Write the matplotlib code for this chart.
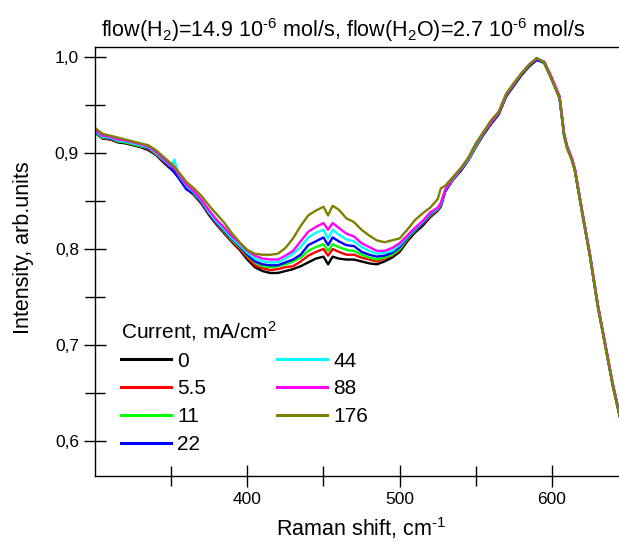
import numpy as np
import matplotlib.pyplot as plt
from matplotlib.ticker import FixedLocator, FuncFormatter

plt.rcParams['font.family'] = ['Liberation Sans', 'DejaVu Sans']
plt.rcParams['mathtext.fontset'] = 'custom'
plt.rcParams['mathtext.rm'] = 'Liberation Sans'
plt.rcParams['mathtext.it'] = 'Liberation Sans:italic'

# Raman shift, cm-1
shift = [300, 305, 310, 315, 320, 325, 330, 335, 340, 345, 350, 352, 355, 360, 365,
         370, 375, 380, 385, 390, 395, 400, 405, 410, 415, 420, 425, 430, 435, 440,
         445, 450, 453, 456, 460, 465, 470, 475, 480, 485, 490, 495, 500, 505, 510,
         515, 520, 525, 527, 530, 535, 540, 545, 550, 555, 560, 565, 570, 575, 580,
         585, 590, 595, 600, 605, 608, 610, 613, 615, 620, 625, 630, 635, 640, 645]

currents = ['0', '5.5', '11', '22', '44', '88', '176']
colors = ['#000000', '#ff0000', '#00ff00', '#0000ff', '#00ffff', '#ff00ff', '#808000']

i_0 = [.921, .915, .914, .911, .910, .908, .906, .903, .898, .890, .883, .880, .874, .863, .856,
       .847, .835, .825, .816, .807, .799, .789, .781, .777, .775, .775, .777, .779, .782, .786,
       .790, .792, .784, .792, .790, .789, .789, .787, .785, .784, .787, .791, .797, .808, .817,
       .824, .833, .840, .844, .860, .872, .881, .892, .906, .919, .930, .940, .959, .970, .981,
       .990, .997, .994, .976, .957, .918, .905, .893, .882, .836, .792, .741, .699, .657, .622]
i_5 = [.922, .916, .914, .912, .911, .909, .907, .904, .899, .891, .884, .881, .875, .864, .857,
       .848, .836, .826, .817, .808, .800, .791, .783, .780, .778, .779, .781, .782, .787, .793,
       .797, .800, .793, .800, .797, .794, .794, .791, .789, .787, .790, .793, .799, .810, .819,
       .826, .834, .841, .845, .861, .872, .882, .893, .907, .920, .931, .941, .960, .971, .982,
       .991, .998, .994, .977, .958, .919, .906, .894, .883, .837, .793, .742, .700, .658, .623]
i_11 = [.921, .916, .915, .912, .911, .909, .907, .905, .899, .892, .885, .882, .876, .865, .857,
        .849, .837, .827, .818, .809, .802, .793, .786, .782, .781, .782, .784, .787, .791, .798,
        .802, .805, .798, .805, .802, .799, .798, .794, .791, .789, .791, .794, .800, .811, .819,
        .827, .835, .842, .846, .861, .873, .882, .893, .907, .920, .931, .941, .960, .971, .982,
        .991, .998, .993, .976, .957, .917, .905, .893, .882, .836, .792, .741, .699, .657, .622]
i_22 = [.922, .917, .915, .913, .912, .910, .908, .905, .900, .892, .884, .880, .874, .862, .858,
        .849, .837, .827, .819, .810, .803, .794, .787, .784, .783, .783, .786, .789, .794, .804,
        .808, .812, .804, .812, .808, .804, .803, .797, .794, .792, .793, .796, .802, .812, .820,
        .827, .836, .842, .846, .861, .873, .882, .893, .908, .920, .931, .941, .960, .971, .982,
        .991, .997, .994, .977, .958, .918, .906, .894, .883, .837, .793, .742, .700, .658, .623]
i_44 = [.923, .917, .916, .913, .912, .910, .908, .906, .900, .893, .886, .893, .877, .866, .859,
        .850, .838, .828, .820, .811, .804, .796, .790, .787, .786, .786, .790, .795, .802, .812,
        .817, .820, .811, .820, .815, .810, .808, .802, .798, .795, .796, .798, .804, .813, .821,
        .828, .837, .842, .847, .862, .873, .883, .893, .908, .921, .932, .942, .961, .972, .983,
        .992, .999, .995, .978, .959, .919, .907, .895, .884, .838, .794, .743, .700, .659, .624]
i_88 = [.924, .918, .917, .914, .913, .911, .909, .907, .901, .894, .887, .884, .878, .867, .860,
        .851, .840, .830, .822, .813, .806, .798, .793, .790, .789, .789, .793, .798, .808, .818,
        .823, .827, .820, .827, .822, .816, .813, .806, .802, .798, .798, .801, .806, .814, .822,
        .829, .838, .843, .848, .862, .874, .883, .894, .909, .921, .932, .942, .961, .972, .983,
        .992, .998, .995, .978, .959, .920, .907, .895, .884, .838, .794, .743, .701, .659, .624]
i_176 = [.926, .920, .918, .916, .914, .912, .910, .908, .903, .896, .889, .886, .880, .870, .863,
         .855, .845, .836, .827, .816, .807, .799, .795, .794, .794, .795, .801, .811, .824, .835,
         .840, .844, .835, .845, .841, .832, .828, .820, .814, .809, .807, .809, .811, .820, .830,
         .837, .843, .852, .863, .866, .875, .884, .895, .910, .922, .934, .943, .962, .973, .983,
         .992, .999, .994, .976, .957, .918, .905, .893, .882, .836, .792, .741, .699, .657, .622]

series = [i_0, i_5, i_11, i_22, i_44, i_88, i_176]

W, H = 619, 544
fig = plt.figure(figsize=(W / 100, H / 100), dpi=100)
ax = fig.add_axes([95 / W, 68 / H, 1 - 95 / W, (476 - 47) / H])

for lab, col, vals in zip(currents, colors, series):
    ax.plot(shift, vals, color=col, lw=1.7, label=lab)

ax.set_xlim(300, 644)
ax.set_ylim(0.5635, 1.0104)
ax.xaxis.set_major_locator(FixedLocator([400, 500, 600]))
ax.xaxis.set_minor_locator(FixedLocator([350, 450, 550]))
ax.yaxis.set_major_locator(FixedLocator([0.6, 0.7, 0.8, 0.9, 1.0]))
ax.yaxis.set_minor_locator(FixedLocator([0.65, 0.75, 0.85, 0.95]))
ax.yaxis.set_major_formatter(FuncFormatter(lambda v, p: f'{v:.1f}'.replace('.', ',')))
ax.tick_params(which='major', direction='inout', length=16, width=1, labelsize=12.5, pad=3.6)
ax.tick_params(which='minor', direction='inout', length=14, width=1)
ax.spines['right'].set_visible(False)
for s in ['left', 'top', 'bottom']:
    ax.spines[s].set_linewidth(1)

fig.text(343.5 / W, 1 - 30 / H,
         r'flow(H$_2$)=14.9 10$^{\text{-6}}$ mol/s, flow(H$_2$O)=2.7 10$^{\text{-6}}$ mol/s',
         ha='center', va='center', fontsize=15.5)
fig.text(361 / W, 1 - 528 / H, r'Raman shift, cm$^{\text{-1}}$', ha='center', va='center',
         fontsize=15.5)
fig.text(24 / W, 1 - 248 / H, 'Intensity, arb.units', rotation=90,
         ha='center', va='center', fontsize=15.5)

leg = ax.legend(ncol=2, title='Current, mA/cm$^2$', frameon=False, fontsize=15,
                title_fontsize=15, handlelength=2.4, handletextpad=0.3,
                columnspacing=3.4, labelspacing=0.42, borderpad=0, borderaxespad=0,
                alignment='left', loc='upper left', bbox_to_anchor=(121 / W, 1 - 319 / H),
                bbox_transform=fig.transFigure)
for line in leg.get_lines():
    line.set_linewidth(2.2)

fig.savefig('out.png', dpi=100)
